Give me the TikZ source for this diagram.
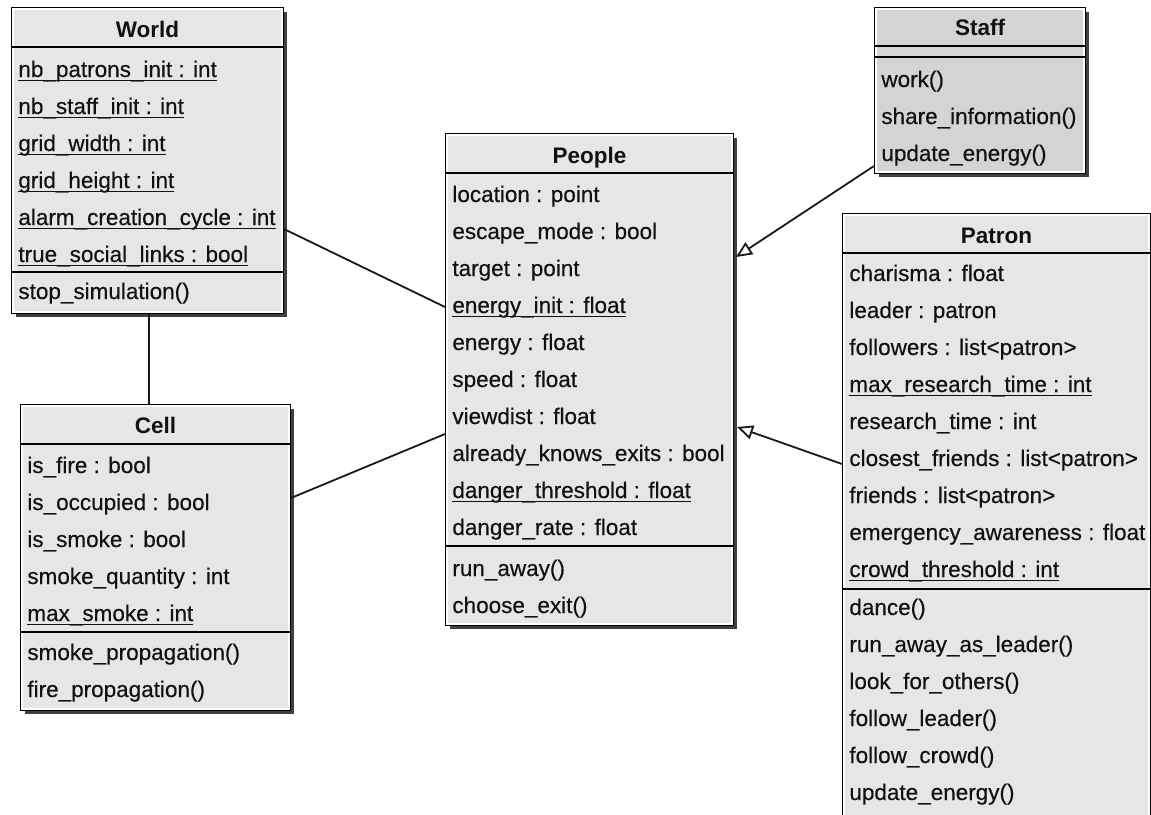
\documentclass[tikz,border=0pt]{standalone}
\usepackage{fontspec}
\setmainfont{Liberation Sans}
\newfontfamily\memberfont[FakeBold=0.35]{Liberation Sans}
\usetikzlibrary{calc,fit,shadows,arrows.meta}
\definecolor{boxfill}{HTML}{E6E6E6}
\definecolor{stafffill}{HTML}{D4D4D4}
\definecolor{ink}{HTML}{111111}
\newcommand\ulx[1]{\setbox0\hbox{#1}\rlap{\rule[-2.1pt]{\wd0}{0.75pt}}\box0}
\tikzset{
  classbox/.style={draw=black, line width=1pt, fill=boxfill, inner sep=0pt,
    drop shadow={shadow xshift=2pt, shadow yshift=-2pt, fill=black!75, opacity=1}},
  divline/.style={draw=black, line width=1pt},
  innerline/.style={draw=white, line width=0.6pt},
  member/.style={anchor=base west, inner sep=0pt, text=ink, font=\memberfont\fontsize{11.25}{13}\selectfont},
  classtitle/.style={anchor=base, inner sep=0pt, text=ink, font=\fontsize{11.25}{13}\selectfont\bfseries},
  assoc/.style={draw=black!90, line width=0.9pt},
  inherit/.style={draw=black!90, line width=0.9pt, -{Triangle[open, fill=white, length=8pt, width=7pt]}},
}
\begin{document}
\begin{tikzpicture}[x=0.5pt,y=-0.5pt]
\useasboundingbox[fill=white] (0,0) rectangle (1151,814);
\clip (0,0) rectangle (1151,814);

% ---------- boxes ----------
\node[classbox, fit={(12,8) (283,313)}] (world) {};
\node[classbox, fit={(21,405) (290,710)}] (cell) {};
\node[classbox, fit={(446,134) (733,625)}] (people) {};
\node[classbox, fill=stafffill, fit={(875,8) (1085,173)}] (staff) {};
\node[classbox, fit={(843,214) (1150,840)}] (patron) {};

\foreach \b in {world,cell,people,staff,patron}
  \draw[innerline] ($(\b.north west)+(2,2)$) rectangle ($(\b.south east)+(-2,-2)$);

% ---------- World ----------
\node[classtitle] (wt) at (147.5,37) {World};
\draw[divline] ($(world.north west)+(0,39.5)$) -- ($(world.north east)+(0,39.5)$);
\foreach \t [count=\i from 0] in {{\ulx{nb\_patrons\_init : int}},{\ulx{nb\_staff\_init : int}},{\ulx{grid\_width : int}},{\ulx{grid\_height : int}},{\ulx{alarm\_creation\_cycle : int}},{\ulx{true\_social\_links : bool}}}
  \node[member] (wa\i) at (18,77+37*\i) {\t};
\draw[divline] ($(world.north west)+(0,265)$) -- ($(world.north east)+(0,265)$);
\node[member] (wm0) at (18,299) {stop\_simulation()};

% ---------- Cell ----------
\node[classtitle] (ct) at (155.5,433) {Cell};
\draw[divline] ($(cell.north west)+(0,39.5)$) -- ($(cell.north east)+(0,39.5)$);
\foreach \t [count=\i from 0] in {{is\_fire : bool},{is\_occupied : bool},{is\_smoke : bool},{smoke\_quantity : int},{\ulx{max\_smoke : int}}}
  \node[member] (ca\i) at (27,473+37*\i) {\t};
\draw[divline] ($(cell.north west)+(0,228)$) -- ($(cell.north east)+(0,228)$);
\node[member] (cm0) at (27,660) {smoke\_propagation()};
\node[member] (cm1) at (27,697) {fire\_propagation()};

% ---------- People ----------
\node[classtitle] (pt) at (589.5,163) {People};
\draw[divline] ($(people.north west)+(0,39.5)$) -- ($(people.north east)+(0,39.5)$);
\foreach \t [count=\i from 0] in {{location : point},{escape\_mode : bool},{target : point},{\ulx{energy\_init : float}},{energy : float},{speed : float},{viewdist : float},{already\_knows\_exits : bool},{\ulx{danger\_threshold : float}},{danger\_rate : float}}
  \node[member] (pa\i) at (452,202+37*\i) {\t};
\draw[divline] ($(people.north west)+(0,413)$) -- ($(people.north east)+(0,413)$);
\node[member] (pm0) at (452,576) {run\_away()};
\node[member] (pm1) at (452,613) {choose\_exit()};

% ---------- Staff ----------
\node[classtitle] (st) at (980,35) {Staff};
\draw[divline] ($(staff.north west)+(0,38.5)$) -- ($(staff.north east)+(0,38.5)$);
\draw[divline] ($(staff.north west)+(0,50)$) -- ($(staff.north east)+(0,50)$);
\node[member] (sm0) at (881,87) {work()};
\node[member] (sm1) at (881,124) {share\_information()};
\node[member] (sm2) at (881,161) {update\_energy()};

% ---------- Patron ----------
\node[classtitle] (prt) at (996.5,243) {Patron};
\draw[divline] ($(patron.north west)+(0,39.5)$) -- ($(patron.north east)+(0,39.5)$);
\foreach \t [count=\i from 0] in {{charisma : float},{leader : patron},{followers : list<patron>},{\ulx{max\_research\_time : int}},{research\_time : int},{closest\_friends : list<patron>},{friends : list<patron>},{emergency\_awareness : float},{\ulx{crowd\_threshold : int}}}
  \node[member] (ra\i) at (849,281+37*\i) {\t};
\draw[divline] ($(patron.north west)+(0,375.5)$) -- ($(patron.north east)+(0,375.5)$);
\foreach \t [count=\i from 0] in {{dance()},{run\_away\_as\_leader()},{look\_for\_others()},{follow\_leader()},{follow\_crowd()},{update\_energy()}}
  \node[member] (rm\i) at (849,615+37*\i) {\t};

% ---------- connectors ----------
\draw[assoc] ($(world.north east)+(0,222)$) -- ($(people.north west)+(0,174)$);
\draw[assoc] ($(cell.north east)+(0,94)$) -- ($(people.north west)+(0,301)$);
\draw[assoc] ($(world.south west)+(138,0)$) -- ($(cell.north west)+(129,0)$);
\draw[inherit] ($(staff.north west)+(0,159)$) -- ($(people.north east)+(2,124)$);
\draw[inherit] ($(patron.north west)+(0,251)$) -- ($(people.north east)+(3,294)$);
\end{tikzpicture}
\end{document}
